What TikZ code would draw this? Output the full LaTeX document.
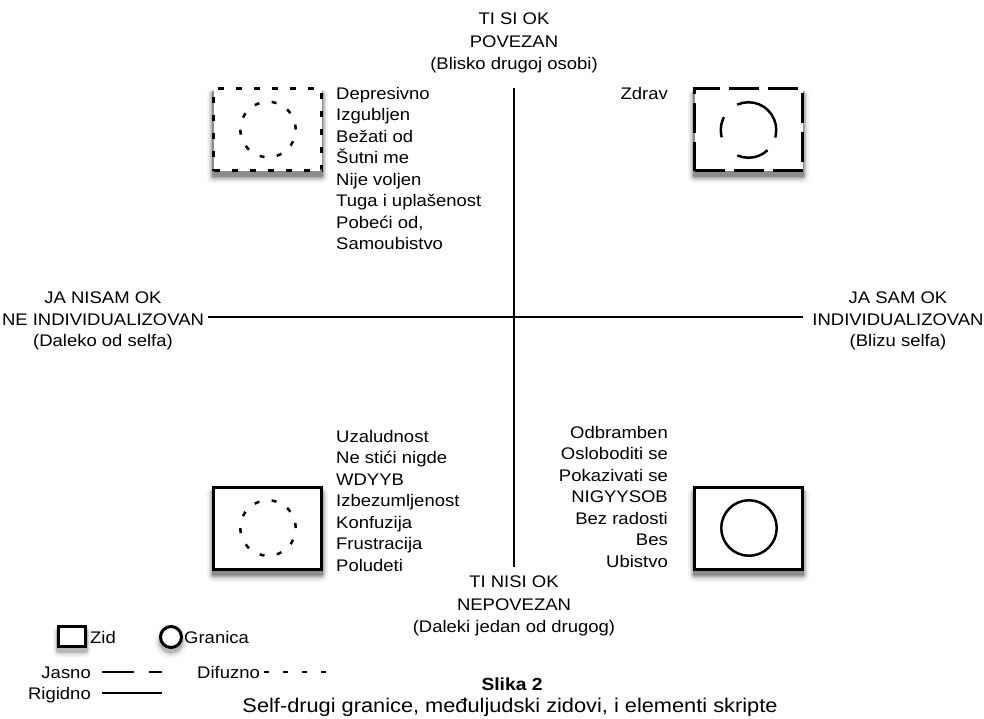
\documentclass[tikz,border=0pt]{standalone}
\usepackage{fontspec}
\setmainfont[FakeStretch=1.1]{Liberation Sans}
\usetikzlibrary{backgrounds}
\begin{document}
\begin{tikzpicture}[x=1pt,y=-1pt,
  lbl/.style={font=\fontsize{16.8}{21.5}\selectfont, inner sep=0pt, text=black},
  axlbl/.style={lbl, align=center, font=\fontsize{16.8}{22.5}\selectfont},
  wall/.style={draw, fill=white, line width=3pt, minimum width=108pt, minimum height=82pt},
  bound/.style={circle, draw, line width=2.5pt, minimum size=55.5pt, inner sep=0pt},
  difw/.style={dash pattern=on 6pt off 12pt},
  difb/.style={dash pattern=on 5pt off 12.44pt},
  jasw/.style={dash pattern=on 30pt off 9pt},
  jasb/.style={dash pattern=on 55.2pt off 18.4pt on 20.8pt off 24.7pt on 32.4pt off 15pt on 7.7pt},
  axis/.style={line width=1.3pt},
  leg/.style={line width=2.5pt},
  sh1/.style={fill=black!5, rounded corners=7pt},
  sh2/.style={fill=black!13, rounded corners=5pt},
  sh3/.style={fill=black!28, rounded corners=3pt},
  sh4/.style={fill=black!45, rounded corners=1pt}]
\useasboundingbox (0,0) rectangle (984,718);

% axes
\coordinate (vt) at (514,88);
\coordinate (vb) at (514,567);
\coordinate (hl) at (208,317);
\coordinate (hr) at (803,317);
\draw[axis] (vt) -- (vb);
\draw[axis] (hl) -- (hr);

% axis labels
\node[axlbl, anchor=north] (top) at (514,13) {TI SI OK\\POVEZAN\\(Blisko drugoj osobi)};
\node[axlbl, anchor=north] (bot) at (514,576) {TI NISI OK\\NEPOVEZAN\\(Daleki jedan od drugog)};
\node[lbl, align=center, anchor=north] (left) at (103,292) {JA NISAM OK\\NE INDIVIDUALIZOVAN\\(Daleko od selfa)};
\node[lbl, align=center, anchor=north] (right) at (898,292) {JA SAM OK\\INDIVIDUALIZOVAN\\(Blizu selfa)};

% boxes
\node[wall, difw] (tlbox) at (267.5,129.5) {};
\node[bound, difb] (tlcirc) at (268,129.5) {};
\node[wall, jasw] (trbox) at (748.5,129.5) {};
\node[bound, jasb] (trcirc) at (748.5,130) {};
\node[wall] (blbox) at (267.5,528) {};
\node[bound, difb] (blcirc) at (268,528) {};
\node[wall] (brbox) at (748.5,528) {};
\node[bound] (brcirc) at (749,528) {};

% lists
\node[lbl, align=left, anchor=north west] (tllist) at (336,87)
  {Depresivno\\Izgubljen\\Bežati od\\Šutni me\\Nije voljen\\Tuga i uplašenost\\Pobeći od,\\Samoubistvo};
\node[lbl, anchor=north east] (trlist) at (668,87) {Zdrav};
\node[lbl, align=left, anchor=north west] (bllist) at (336,430)
  {Uzaludnost\\Ne stići nigde\\WDYYB\\Izbezumljenost\\Konfuzija\\Frustracija\\Poludeti};
\node[lbl, align=right, anchor=north east] (brlist) at (668,426)
  {Odbramben\\Osloboditi se\\Pokazivati se\\NIGYYSOB\\Bez radosti\\Bes\\Ubistvo};

% legend
\node[draw, fill=white, line width=3pt, minimum width=27pt, minimum height=20pt, inner sep=0pt] (lzid) at (72,636.5) {};
\node[lbl, anchor=base west] (tzid) at (90,643) {Zid};
\node[circle, draw, fill=white, line width=3pt, minimum size=21pt, inner sep=0pt] (lgr) at (171,637) {};
\node[lbl, anchor=base west] (tgr) at (184,643) {Granica};
\node[lbl, anchor=base east] (tjas) at (91,678) {Jasno};
\node[lbl, anchor=base east] (trig) at (91,699) {Rigidno};
\node[lbl, anchor=base west] (tdif) at (197,678) {Difuzno};
\coordinate (j1) at (102,672); \coordinate (j2) at (134,672);
\coordinate (j3) at (149,672); \coordinate (j4) at (162,672);
\draw[leg] (j1) -- (j2);
\draw[leg] (j3) -- (j4);
\coordinate (r1) at (102,693); \coordinate (r2) at (162,693);
\draw[leg] (r1) -- (r2);
\coordinate (d1) at (264,672); \coordinate (d2) at (329,672);
\draw[leg, dash pattern=on 5pt off 14pt] (d1) -- (d2);

% caption
\node[lbl, font=\bfseries\fontsize{17.5}{21}\selectfont, anchor=north] (cap) at (512,678) {Slika 2};
\node[lbl, font=\fontsize{19.8}{21}\selectfont, anchor=north] (cap2) at (510,698)
  {Self-drugi granice, međuljudski zidovi, i elementi skripte};

% shadows
\begin{scope}[on background layer]
\fill[white] (0,0) rectangle (984,718);
\foreach \b in {tlbox,trbox,blbox,brbox}{
  \fill[sh1] ([xshift=-5pt,yshift=-11pt]\b.south west) rectangle ([xshift=5pt,yshift=-2pt]\b.north east);
  \fill[sh2] ([xshift=-3pt,yshift=-9pt]\b.south west) rectangle ([xshift=3pt,yshift=-3pt]\b.north east);
  \fill[sh3] ([xshift=-1.5pt,yshift=-7pt]\b.south west) rectangle ([xshift=1.5pt,yshift=-4pt]\b.north east);
  \fill[sh4] ([xshift=0pt,yshift=-5pt]\b.south west) rectangle ([xshift=0pt,yshift=-4pt]\b.north east);
}
\foreach \b in {lzid}{
  \fill[sh1] ([xshift=-4pt,yshift=-9pt]\b.south west) rectangle ([xshift=4pt,yshift=-1pt]\b.north east);
  \fill[sh2] ([xshift=-2pt,yshift=-7pt]\b.south west) rectangle ([xshift=2pt,yshift=-2pt]\b.north east);
  \fill[sh3] ([xshift=-1pt,yshift=-5pt]\b.south west) rectangle ([xshift=1pt,yshift=-3pt]\b.north east);
}
\fill[black!5] ([yshift=-5pt]lgr.center) circle[radius=16pt];
\fill[black!13] ([yshift=-4.5pt]lgr.center) circle[radius=14pt];
\fill[black!28] ([yshift=-4pt]lgr.center) circle[radius=12.5pt];
\end{scope}
\end{tikzpicture}
\end{document}
